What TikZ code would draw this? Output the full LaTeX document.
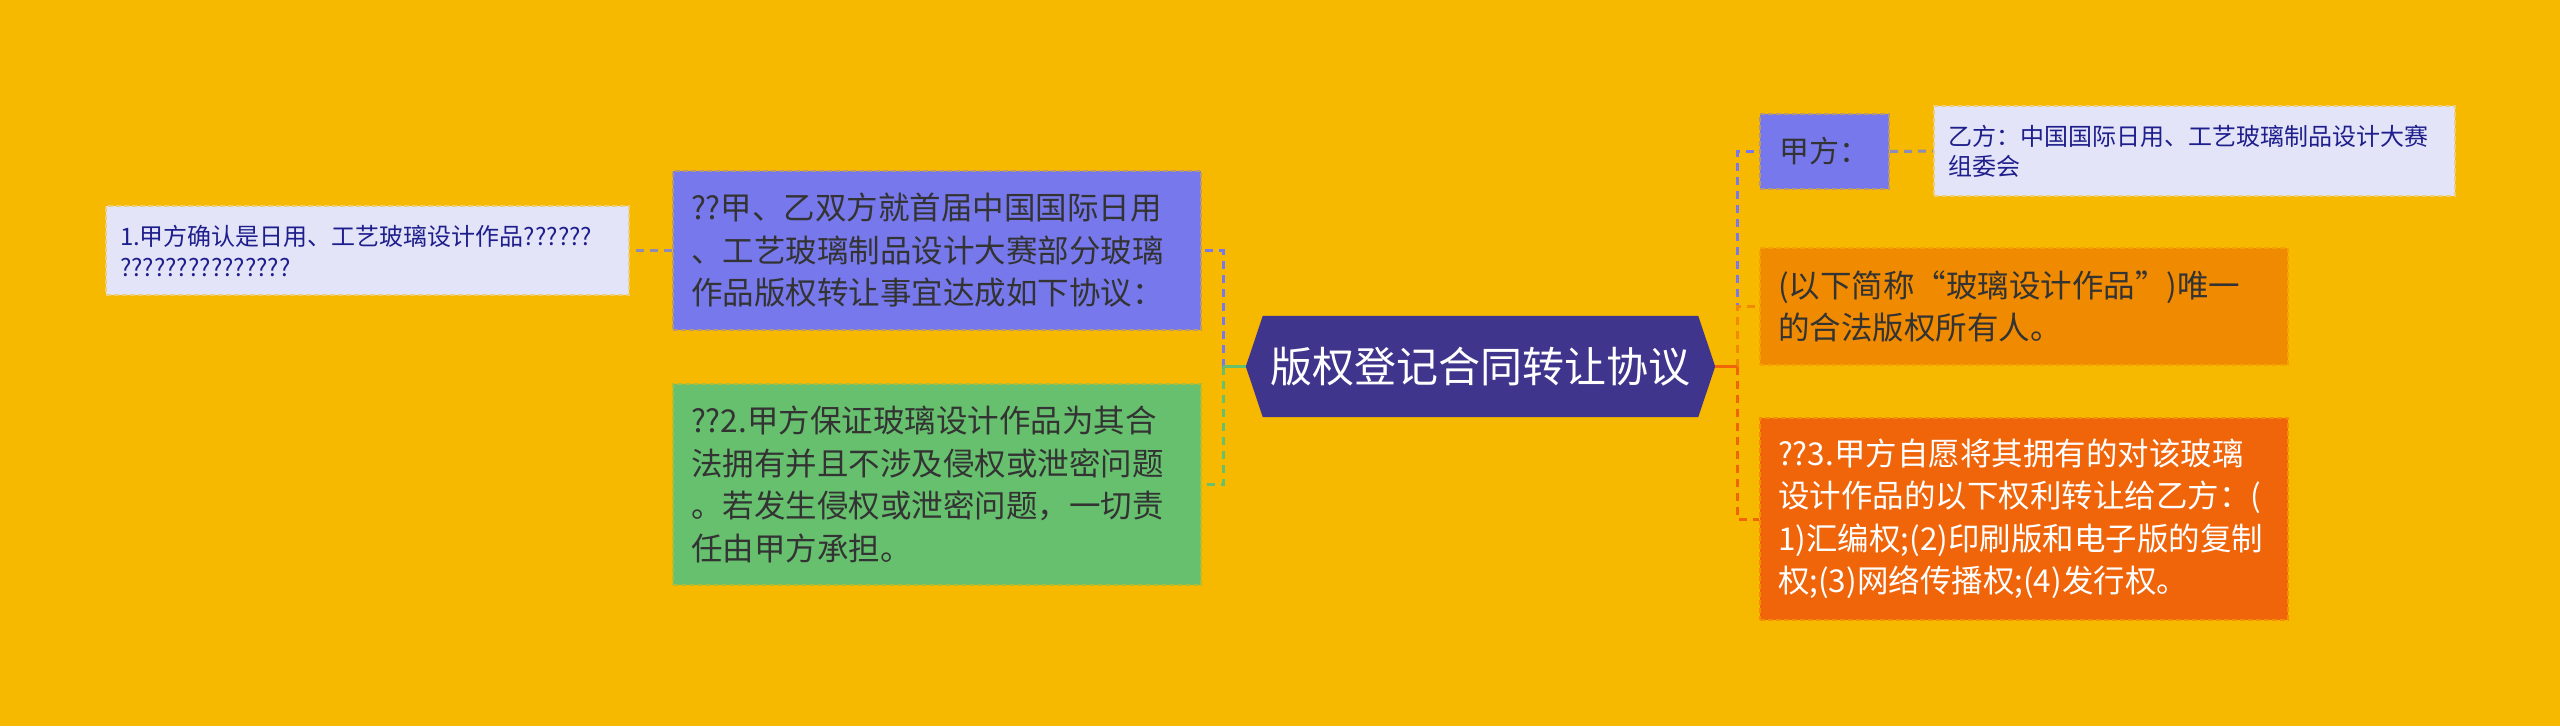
\documentclass[tikz,border=0pt]{standalone}
\usepackage{fontspec}
\setmainfont{Noto Sans CJK SC}
\usetikzlibrary{backgrounds}
\definecolor{bgc}{HTML}{F7B900}
\definecolor{centralc}{HTML}{3F358C}
\definecolor{bluec}{HTML}{7678EB}
\definecolor{greenc}{HTML}{66C06E}
\definecolor{orangec}{HTML}{F08A00}
\definecolor{redc}{HTML}{F0640A}
\definecolor{lavc}{HTML}{E4E4F8}
\definecolor{navyc}{HTML}{1E1E8C}
\definecolor{darkc}{HTML}{333333}
\definecolor{grayc}{HTML}{8C8CB4}
\tikzset{
  box/.style={rectangle, anchor=north west, inner xsep=#1, inner ysep=0pt, align=left,
    line width=2pt, dash pattern=on 5pt off 3pt},
  bigtext/.style={font=\fontsize{31.5pt}{42.5pt}\selectfont},
  smalltext/.style={font=\fontsize{24pt}{31pt}\selectfont},
  conn/.style={line width=3pt, dash pattern=on 8pt off 6pt},
  stub/.style={line width=3pt},
}
\begin{document}
\begin{tikzpicture}[x=1pt,y=-1pt]
\useasboundingbox (0,0) rectangle (2560,726);
% nodes
\node[box=14pt, smalltext, fill=lavc, draw=lavc!50!bgc, text=navyc,
  minimum width=523pt, minimum height=89pt, text width=495pt] (L1) at (105,205)
  {1.甲方确认是日用、工艺玻璃设计作品??????\\???????????????};
\node[box=18pt, bigtext, fill=bluec, draw=bluec!50!bgc, text=darkc,
  minimum width=528pt, minimum height=159pt, text width=492pt] (B) at (672,170)
  {??甲、乙双方就首届中国国际日用\\、工艺玻璃制品设计大赛部分玻璃\\作品版权转让事宜达成如下协议：};
\node[box=18pt, bigtext, fill=greenc, draw=greenc!50!bgc, text=darkc,
  minimum width=528pt, minimum height=201pt, text width=492pt] (G) at (672,383)
  {??2.甲方保证玻璃设计作品为其合\\法拥有并且不涉及侵权或泄密问题\\。若发生侵权或泄密问题，一切责\\任由甲方承担。};
\node[rectangle, inner sep=0pt, minimum width=435pt, minimum height=101pt, text=white,
  font=\fontsize{42pt}{50pt}\selectfont] (C) at (1480.5,366.5) {版权登记合同转让协议};
\coordinate (cW) at ([xshift=-17pt]C.west);
\coordinate (cE) at ([xshift=17pt]C.east);
\node[box=19pt, font=\fontsize{30pt}{36pt}\selectfont, fill=bluec, draw=bluec!50!bgc, text=darkc,
  minimum width=129pt, minimum height=75pt, text width=91pt] (J) at (1759,113) {甲方：};
\node[box=14pt, fill=lavc, draw=lavc!50!bgc, text=navyc,
  minimum width=521pt, minimum height=90pt, text width=493pt,
  font=\fontsize{24pt}{30pt}\selectfont] (Y) at (1933,105)
  {乙方：中国国际日用、工艺玻璃制品设计大赛\\组委会};
\node[box=18pt, bigtext, fill=orangec, draw=orangec!50!bgc, text=darkc,
  minimum width=528pt, minimum height=117pt, text width=492pt] (O1) at (1759,247)
  {(以下简称“玻璃设计作品”)唯一\\的合法版权所有人。};
\node[box=18pt, bigtext, fill=redc, draw=redc!50!bgc, text=white,
  minimum width=528pt, minimum height=202pt, text width=492pt] (O2) at (1759,417)
  {??3.甲方自愿将其拥有的对该玻璃\\设计作品的以下权利转让给乙方：(\\1)汇编权;(2)印刷版和电子版的复制\\权;(3)网络传播权;(4)发行权。};
% junctions
\coordinate (lj) at (1223,366.5);
\coordinate (rj) at (1737,366.5);
% background and central hexagon
\begin{scope}[on background layer]
  \fill[bgc] (0,0) rectangle (2560,726);
  \fill[centralc] (C.north west) -- (C.north east) -- (cE) -- (C.south east)
    -- (C.south west) -- (cW) -- cycle;
\end{scope}
% connectors left
\draw[conn, bluec] (lj) |- (B.east);
\draw[conn, greenc] (lj) |- (G.east);
\draw[stub, greenc] (cW) -- (lj);
\draw[conn, grayc] (B.west) -- (L1.east);
% connectors right
\draw[conn, bluec] (rj) |- (J.west);
\draw[conn, orangec] (rj) |- (O1.west);
\draw[conn, redc] (rj) |- (O2.west);
\draw[stub, redc] (cE) -- (rj);
\draw[conn, grayc] (J.east) -- (Y.west);
\end{tikzpicture}
\end{document}
